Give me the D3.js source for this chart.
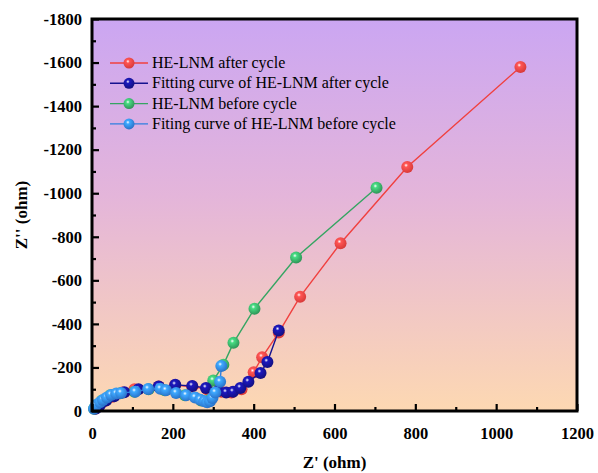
<!DOCTYPE html>
<html>
<head>
<meta charset="utf-8">
<script src="https://cdn.jsdelivr.net/npm/d3@7"></script>
<style>
  body { margin: 0; background: #fff; }
  text { font-family: "Liberation Serif", "Times New Roman", serif; }
</style>
</head>
<body>
<div id="chart"></div>
<script>
// Z' (ohm) and -Z'' (ohm) values
const afterX = [8, 15, 30, 50, 75, 105, 165, 205, 248, 285, 320, 345, 370, 400, 421, 462, 515, 615, 780, 1060];
const afterY = [-10, -25, -45, -65, -85, -100, -112, -118, -112, -100, -88, -85, -100, -178, -247, -360, -525, -770, -1120, -1580];

const fitAfterX = [10, 20, 35, 55, 80, 115, 165, 206, 248, 282, 312, 332, 349, 367, 387, 417, 434, 462];
const fitAfterY = [-12, -28, -48, -68, -86, -100, -112, -120, -115, -106, -92, -85, -88, -106, -134, -175, -225, -370];

const beforeX = [5, 12, 25, 45, 70, 105, 140, 180, 230, 270, 290, 300, 325, 350, 402, 505, 704];
const beforeY = [-10, -28, -48, -72, -82, -88, -100, -95, -72, -48, -50, -140, -212, -313, -470, -705, -1025];

const fitBeforeX = [5, 10, 20, 27, 37, 47, 60, 72, 107, 139, 169, 183, 208, 233, 255, 268, 278, 285, 292, 298, 305, 317, 320];
const fitBeforeY = [-10, -28, -40, -51, -62, -74, -80, -83, -88, -101, -102, -95, -83, -72, -62, -52, -45, -40, -45, -60, -85, -134, -207];

const seriesNames = ['HE-LNM after cycle', 'Fitting curve of HE-LNM after cycle', 'HE-LNM before cycle', 'Fiting curve of HE-LNM before cycle'];
const seriesColors = ['#f0403f', '#15128f', '#35a562', '#2f7fe0'];

const xTicks = [0, 200, 400, 600, 800, 1000, 1200];
const yTicks = [0, -200, -400, -600, -800, -1000, -1200, -1400, -1600, -1800];

const series = [
  { name: seriesNames[0], color: seriesColors[0], xs: afterX, ys: afterY },
  { name: seriesNames[2], color: seriesColors[2], xs: beforeX, ys: beforeY },
  { name: seriesNames[1], color: seriesColors[1], xs: fitAfterX, ys: fitAfterY },
  { name: seriesNames[3], color: seriesColors[3], xs: fitBeforeX, ys: fitBeforeY }
];

const W = 598, H = 473;
const margin = { top: 19, right: 21, bottom: 62, left: 92 };
const width = W - margin.left - margin.right;
const height = H - margin.top - margin.bottom;

const svg = d3.select('#chart').append('svg')
  .attr('width', W)
  .attr('height', H);

const defs = svg.append('defs');
const bg = defs.append('linearGradient')
  .attr('id', 'bg').attr('x1', 0).attr('y1', 0).attr('x2', 0).attr('y2', 1);
bg.append('stop').attr('offset', '0%').attr('stop-color', '#cba6f2');
bg.append('stop').attr('offset', '45%').attr('stop-color', '#e4b5da');
bg.append('stop').attr('offset', '100%').attr('stop-color', '#fdd8b2');

// shiny ball markers
seriesColors.forEach((c, i) => {
  const g = defs.append('radialGradient')
    .attr('id', 'ball' + i).attr('cx', '40%').attr('cy', '35%').attr('r', '65%');
  g.append('stop').attr('offset', '0%').attr('stop-color', '#ffffff');
  g.append('stop').attr('offset', '25%').attr('stop-color', d3.color(c).brighter(0.8));
  g.append('stop').attr('offset', '100%').attr('stop-color', d3.color(c).darker(0.3));
});

const g = svg.append('g').attr('transform', `translate(${margin.left},${margin.top})`);

g.append('rect')
  .attr('width', width).attr('height', height)
  .attr('fill', 'url(#bg)');

const x = d3.scaleLinear().domain([0, 1200]).range([0, width]);
const y = d3.scaleLinear().domain([0, -1800]).range([height, 0]);

// lines and markers
const line = d3.line().x(d => x(d[0])).y(d => y(d[1]));
series.forEach(s => {
  const pts = s.xs.map((v, i) => [v, s.ys[i]]);
  const idx = seriesColors.indexOf(s.color);
  g.append('path')
    .datum(pts)
    .attr('fill', 'none')
    .attr('stroke', s.color)
    .attr('stroke-width', 1.4)
    .attr('d', line);
  g.selectAll(null)
    .data(pts)
    .enter().append('circle')
    .attr('cx', d => x(d[0]))
    .attr('cy', d => y(d[1]))
    .attr('r', 6)
    .attr('fill', `url(#ball${idx})`);
});

// axes with inward ticks
const xMinor = d3.range(100, 1200, 200);
const yMinor = d3.range(-100, -1800, -200);
const fmt = d => String(d);

g.append('g').attr('transform', `translate(0,${height})`)
  .call(d3.axisBottom(x).tickValues(xTicks).tickSize(-7).tickPadding(16).tickFormat(fmt));
g.append('g').attr('transform', `translate(0,${height})`)
  .call(d3.axisBottom(x).tickValues(xMinor).tickSize(-4).tickFormat(''));
g.append('g')
  .call(d3.axisLeft(y).tickValues(yTicks).tickSize(-7).tickPadding(10).tickFormat(fmt));
g.append('g')
  .call(d3.axisLeft(y).tickValues(yMinor).tickSize(-4).tickFormat(''));

g.selectAll('.domain').remove();
g.selectAll('.tick line').attr('stroke', '#000').attr('stroke-width', 2.2);
g.selectAll('.tick text')
  .attr('fill', '#000')
  .style('font-size', '16.5px')
  .style('font-weight', 'bold')
  .style('font-family', '"Liberation Serif", serif');

// frame
g.append('rect')
  .attr('width', width).attr('height', height)
  .attr('fill', 'none').attr('stroke', '#000').attr('stroke-width', 3);

// axis titles
svg.append('text')
  .attr('x', margin.left + width / 2)
  .attr('y', 468)
  .attr('text-anchor', 'middle')
  .style('font-size', '17px').style('font-weight', 'bold')
  .text("Z' (ohm)");

svg.append('text')
  .attr('transform', `translate(27,${margin.top + height / 2}) rotate(-90)`)
  .attr('text-anchor', 'middle')
  .style('font-size', '17px').style('font-weight', 'bold')
  .text("Z'' (ohm)");

// legend
const legend = g.append('g').attr('transform', 'translate(18,44)');
seriesNames.forEach((name, i) => {
  const row = legend.append('g').attr('transform', `translate(0,${i * 20.3})`);
  row.append('line')
    .attr('x1', 0).attr('x2', 38).attr('y1', 0).attr('y2', 0)
    .attr('stroke', seriesColors[i]).attr('stroke-width', 1.4);
  row.append('circle')
    .attr('cx', 19).attr('cy', 0).attr('r', 5.5)
    .attr('fill', `url(#ball${i})`);
  row.append('text')
    .attr('x', 42).attr('y', 5)
    .style('font-size', '16px')
    .text(name);
});
</script>
</body>
</html>
